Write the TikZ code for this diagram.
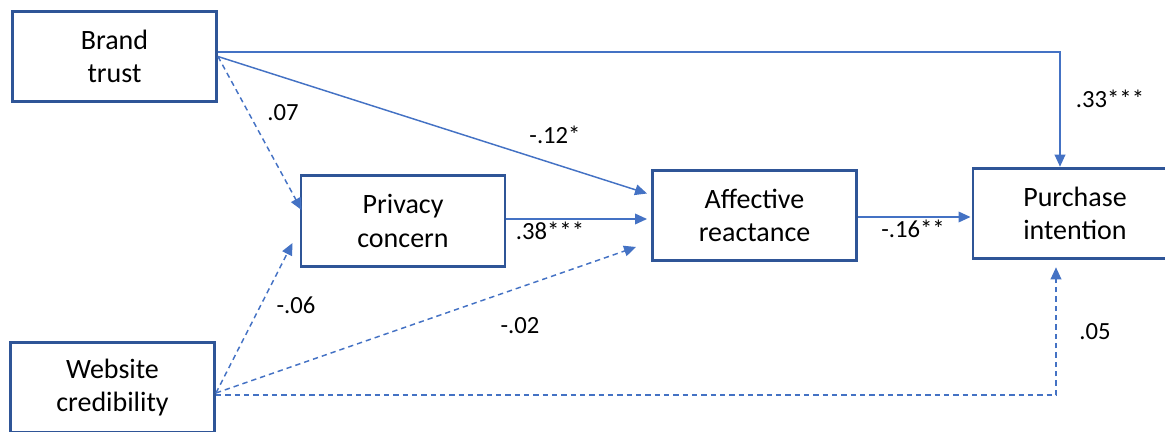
\documentclass[tikz,border=0pt]{standalone}
\usepackage{fontspec}
\setmainfont{Carlito}
\usetikzlibrary{arrows.meta,calc}
\definecolor{boxblue}{HTML}{2F5597}
\definecolor{arrblue}{HTML}{4472C4}
\begin{document}
\begin{tikzpicture}[x=0.75pt,y=-0.75pt,
  vbox/.style={draw=boxblue,line width=2.2pt,minimum width=153pt,minimum height=68pt,
    align=center,font=\fontsize{21}{25}\selectfont,inner sep=0pt},
  conn/.style={draw=arrblue,line width=1.1pt,-{Triangle[length=9pt,width=8pt]}},
  dconn/.style={conn,dash pattern=on 4pt off 3pt},
  lbl/.style={font=\fontsize{18.5}{21}\selectfont,inner sep=0pt}]
\useasboundingbox (0,0) rectangle (1165,432);
\begin{scope}
\clip (0,0) rectangle (1165,432);
\node[vbox] (bt) at (114.5,56.5) {Brand\\trust};
\node[vbox] (wc) at (112.5,387.5) {Website\\credibility};
\node[vbox] (pc) at (403,221) {Privacy\\concern};
\node[vbox] (ar) at (754.5,215.5) {Affective\\reactance};
\node[vbox] (pi) at (1075,213.5) {Purchase\\intention};
\end{scope}
% brand trust arrows
\coordinate (btA) at ($(bt.east)+(0,-4.5)$);
\coordinate (piT) at ($(pi.north)+(-15,0)$);
\draw[conn] (btA) -| (piT);
\draw[conn] (bt.east) -- ($(ar.west)+(-4,-22)$);
\draw[dconn] (bt.east) -- ($(pc.west)+(2,-11)$);
% privacy -> affective
\draw[conn] ($(pc.east)+(0,-2)$) -- ($(ar.west)+(-4,3.5)$);
% affective -> purchase
\draw[conn] ($(ar.east)+(0,1.5)$) -- ($(pi.west)+(-1,3.5)$);
% website credibility arrows
\coordinate (wcA) at ($(wc.east)+(0,5.5)$);
\coordinate (wcB) at ($(wc.east)+(0,7.5)$);
\draw[dconn] (wcA) -- ($(pc.west)+(-7,22)$);
\draw[dconn] (wcA) -- ($(ar.west)+(-15,31.5)$);
\draw[dconn] (wcB) -| ($(pi.south)+(-19,7)$);
% labels
\node[lbl] (l1) at (283,113) {.07};
\node[lbl] (l2) at (555,135) {-.12*};
\node[lbl] (l3) at (550,231) {.38***};
\node[lbl] (l4) at (913,229) {-.16**};
\node[lbl] (l5) at (1110,99) {.33***};
\node[lbl] (l6) at (1095,332) {.05};
\node[lbl] (l7) at (296,305) {-.06};
\node[lbl] (l8) at (520,326) {-.02};
\end{tikzpicture}
\end{document}
